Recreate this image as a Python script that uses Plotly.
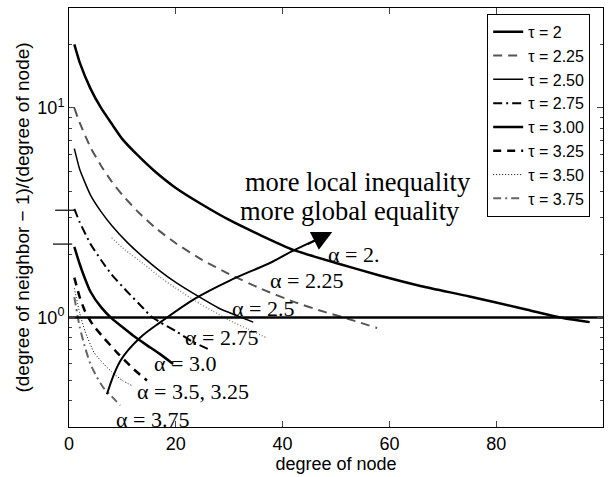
import math
import plotly.graph_objects as go

# ---- data ----
tau2_x = [1, 2, 4, 6, 8, 10, 13, 16, 20, 25, 30, 36, 42, 50, 58, 66, 75, 85, 92, 97.5]
tau2_y = [20.1, 16.5, 12.4, 10.0, 8.4, 7.1, 5.9, 5.0, 4.15, 3.45, 2.92, 2.46, 2.1, 1.82, 1.59, 1.41, 1.26, 1.1, 1.0, 0.95]

tau225_x = [1, 2, 4, 6, 8, 10, 13, 16, 20, 25, 30, 36, 42, 48, 52, 57.7]
tau225_y = [10.0, 8.5, 6.5, 5.3, 4.45, 3.84, 3.18, 2.7, 2.26, 1.88, 1.61, 1.37, 1.19, 1.06, 0.99, 0.89]

tau250_x = [1, 2, 4, 6, 8, 11, 14, 17, 20, 24, 28, 31, 34.5]
tau250_y = [6.4, 5.1, 3.85, 3.2, 2.75, 2.27, 1.93, 1.67, 1.47, 1.27, 1.11, 1.03, 0.95]

extra_x = [8, 10.5, 14, 17, 20, 23.6, 27, 30, 33.5, 37]
extra_y = [2.4, 2.1, 1.8, 1.56, 1.38, 1.2, 1.07, 0.97, 0.88, 0.80]

tau275_x = [1, 2, 4, 6, 8, 11, 14, 15.2, 17, 20, 23, 26.4]
tau275_y = [3.3, 2.85, 2.25, 1.88, 1.6, 1.32, 1.1, 1.02, 0.95, 0.86, 0.77, 0.70]

tau300_x = [1, 2, 3, 4, 6, 8, 10, 12, 14.5, 17, 19.5]
tau300_y = [2.17, 1.8, 1.53, 1.33, 1.12, 0.99, 0.9, 0.82, 0.74, 0.67, 0.60]

tau325_x = [1, 2, 3, 4.5, 6.5, 9, 12, 14.6]
tau325_y = [1.55, 1.25, 1.07, 0.92, 0.8, 0.68, 0.57, 0.50]

tau350_x = [1, 2, 3, 4.7, 6.5, 8, 10, 12]
tau350_y = [1.38, 1.05, 0.86, 0.68, 0.6, 0.55, 0.5, 0.47]

tau375_x = [1, 2, 3, 4, 5.2, 6.5, 8, 9.6]
tau375_y = [1.25, 0.9, 0.72, 0.6, 0.52, 0.46, 0.42, 0.38]

unity_x = [0, 100]
unity_y = [1, 1]

arrow_x = [7.1, 9.6, 13.3, 17.4, 23.6, 30.1, 38.0, 41.9, 47.4]
arrow_y = [0.43, 0.62, 0.80, 0.96, 1.23, 1.50, 1.84, 2.08, 2.42]

legend_names = ["τ = 2", "τ = 2.25", "τ = 2.50", "τ = 2.75",
                "τ = 3.00", "τ = 3.25", "τ = 3.50", "τ = 3.75"]

alpha_labels = ["α = 2.", "α = 2.25", "α = 2.5", "α = 2.75",
                "α = 3.0", "α = 3.5, 3.25", "α = 3.75"]
alpha_lx = [53.2, 44.4, 36.3, 28.5, 21.7, 23.2, 15.6]
alpha_ly = [1.99, 1.50, 1.10, 0.80, 0.605, 0.445, 0.325]

x_ticks = [0, 20, 40, 60, 80, 100]
y_ticks = [1, 10]
y_ticktext = ["10<sup>0</sup>", "10<sup>1</sup>"]
y_minor = [0.3, 0.4, 0.5, 0.6, 0.7, 0.8, 0.9, 2, 3, 4, 5, 6, 7, 8, 9, 20, 30]

# ---- figure ----
fig = go.Figure()

series = [
    (tau2_x, tau2_y, dict(color="black", width=2.5, dash="solid")),
    (tau225_x, tau225_y, dict(color="#555555", width=2, dash="9px,6px")),
    (tau250_x, tau250_y, dict(color="black", width=1.5, dash="solid")),
    (tau275_x, tau275_y, dict(color="black", width=2, dash="9px,4px,2px,4px")),
    (tau300_x, tau300_y, dict(color="black", width=2.5, dash="solid")),
    (tau325_x, tau325_y, dict(color="black", width=2.5, dash="8px,6px")),
    (tau350_x, tau350_y, dict(color="black", width=1, dash="1px,2px")),
    (tau375_x, tau375_y, dict(color="#666666", width=2, dash="8px,4px,2px,4px")),
]
for (xs, ys, ln), name in zip(series, legend_names):
    fig.add_trace(go.Scatter(x=xs, y=ys, mode="lines", name=name,
                             line=dict(shape="spline", smoothing=0.5, **ln)))

fig.add_trace(go.Scatter(x=extra_x, y=extra_y, mode="lines", showlegend=False,
                         line=dict(color="#888888", width=1.5, dash="1px,2px",
                                   shape="spline", smoothing=0.5)))
fig.add_trace(go.Scatter(x=unity_x, y=unity_y, mode="lines", showlegend=False,
                         line=dict(color="black", width=2.5)))
fig.add_trace(go.Scatter(x=arrow_x, y=arrow_y, mode="lines", showlegend=False,
                         line=dict(color="black", width=2, shape="spline")))

serif = "Liberation Serif, Times New Roman, serif"
annotations = []
# arrow head
annotations.append(dict(x=49.3, y=math.log10(2.56), xref="x", yref="y", text="",
                        showarrow=True, arrowhead=2, arrowsize=2, arrowwidth=2,
                        arrowcolor="black", ax=-26, ay=13))
for t, lx, ly in zip(alpha_labels, alpha_lx, alpha_ly):
    annotations.append(dict(x=lx, y=math.log10(ly), xref="x", yref="y", text=t,
                            showarrow=False, font=dict(family=serif, size=22, color="black")))
annotations.append(dict(x=54.2, y=math.log10(4.45), xref="x", yref="y", text="more local inequality",
                        showarrow=False, font=dict(family=serif, size=26.5, color="black")))
annotations.append(dict(x=52.6, y=math.log10(3.21), xref="x", yref="y", text="more global equality",
                        showarrow=False, font=dict(family=serif, size=26.5, color="black")))

shapes = [
    dict(type="line", xref="paper", yref="y", x0=-0.026, x1=0.012,
         y0=3.25, y1=3.25, line=dict(color="black", width=1.2)),
    dict(type="line", xref="paper", yref="y", x0=-0.03, x1=0.006,
         y0=2.24, y1=2.24, line=dict(color="black", width=1.2)),
]

fig.update_layout(
    width=615, height=477,
    margin=dict(l=69, r=12, t=7, b=47),
    paper_bgcolor="white", plot_bgcolor="white",
    font=dict(family="Liberation Sans, Arial, sans-serif", size=18, color="black"),
    showlegend=True,
    legend=dict(x=0.976, y=0.986, xanchor="right", yanchor="top",
                bgcolor="white", bordercolor="black", borderwidth=1,
                font=dict(size=16), tracegroupgap=0),
    annotations=annotations,
    shapes=shapes,
)
fig.update_xaxes(range=[0, 100], tickvals=x_ticks, ticks="inside", ticklen=6,
                 showline=True, linecolor="black", linewidth=1, mirror="allticks",
                 showgrid=False, zeroline=False,
                 title=dict(text="degree of node", font=dict(size=18), standoff=4))
fig.update_yaxes(type="log", range=[math.log10(0.3), math.log10(30)],
                 tickvals=y_ticks, ticktext=y_ticktext, ticks="inside", ticklen=6,
                 minor=dict(tickvals=y_minor, ticks="inside", ticklen=3, showgrid=False),
                 showline=True, linecolor="black", linewidth=1, mirror="allticks",
                 showgrid=False, zeroline=False,
                 title=dict(text="(degree of neighbor − 1)/(degree of node)",
                            font=dict(size=19), standoff=2))

fig.write_html("out.html")
